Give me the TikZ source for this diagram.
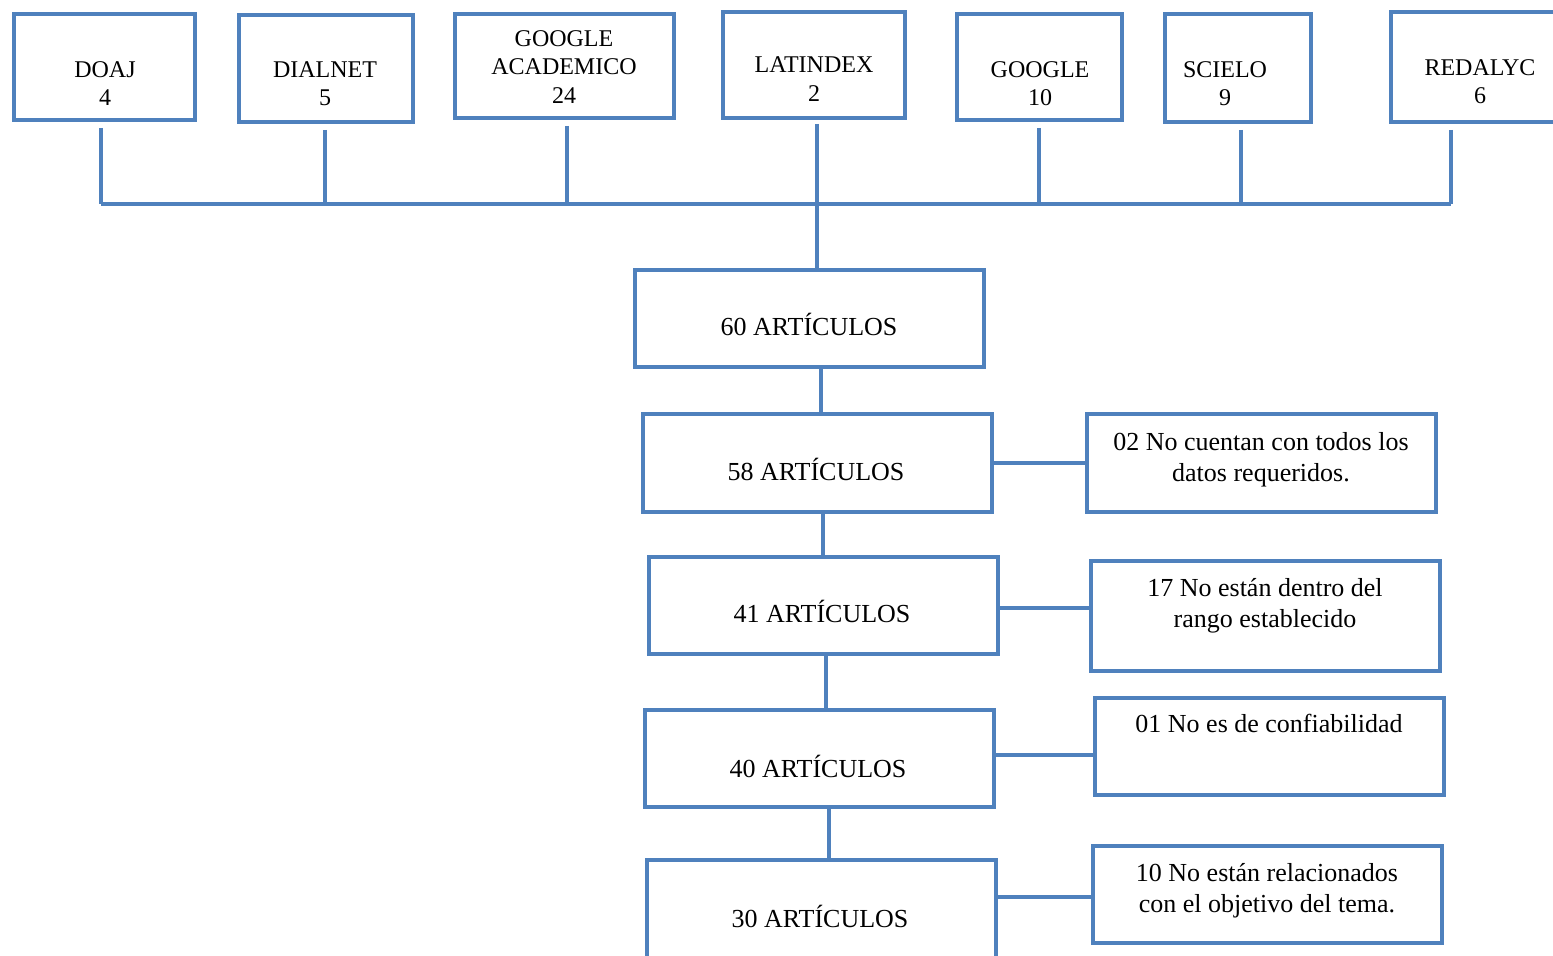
\documentclass[tikz,border=0pt]{standalone}
\usepackage{fontspec}
\setmainfont{Liberation Serif}
\usepackage{xcolor}
\usetikzlibrary{positioning,calc}

\definecolor{boxblue}{RGB}{79,129,189}

\tikzset{
  box/.style={draw=boxblue, line width=2pt, fill=white, inner sep=0pt},
  link/.style={draw=boxblue, line width=2pt},
  toptext/.style={font=\fontsize{12}{14.25}\selectfont, align=center, anchor=base, inner sep=0pt},
  midtext/.style={font=\fontsize{13}{15.5}\selectfont, align=center, anchor=base, inner sep=0pt},
}

\begin{document}
\begin{tikzpicture}[x=0.5pt,y=-0.5pt]
\clip (0,0) rectangle (1553,956);

% Draw database boxes
\node[box, minimum width=90.5pt, minimum height=53pt] (doaj) at (104.5,67) {};
\node[box, minimum width=87pt, minimum height=53.5pt] (dialnet) at (326,68.5) {};
\node[box, minimum width=109.5pt, minimum height=52pt] (gacad) at (564.5,66) {};
\node[box, minimum width=91pt, minimum height=53pt] (latindex) at (814,65) {};
\node[box, minimum width=82.5pt, minimum height=53pt] (google) at (1039.5,67) {};
\node[box, minimum width=73pt, minimum height=54pt] (scielo) at (1238,68) {};
\node[box, minimum width=89.5pt, minimum height=55pt] (redalyc) at (1480,67) {};

% (base = last line)
\node[toptext] (doajT) at (105,106) {DOAJ\\4};
\node[toptext] (dialnetT) at (325,106) {DIALNET\\5};
\node[toptext] (gacadT) at (564,103.5) {GOOGLE\\ACADEMICO\\24};
\node[toptext] (latindexT) at (814,101.5) {LATINDEX\\2};
\node[toptext] (googleT) at (1040,106) {GOOGLE\\10};
\node[toptext] (scieloT) at (1225,106) {SCIELO\\9};
\node[toptext] (redalycT) at (1480,104) {REDALYC\\6};

% Draw article counts
\node[box, minimum width=174.5pt, minimum height=48.5pt] (a60) at (809.5,318.5) {};
\node[box, minimum width=174.5pt, minimum height=49pt] (a58) at (817.5,463) {};
\node[box, minimum width=174.5pt, minimum height=48.5pt] (a41) at (823.5,605.5) {};
\node[box, minimum width=174.5pt, minimum height=48.5pt] (a40) at (819.5,758.5) {};
\node[box, minimum width=174.5pt, minimum height=50pt] (a30) at (821.5,910) {};

\node[midtext] (a60T) at (809,336) {60 ARTÍCULOS};
\node[midtext] (a58T) at (816,481) {58 ARTÍCULOS};
\node[midtext] (a41T) at (822,623) {41 ARTÍCULOS};
\node[midtext] (a40T) at (818,777) {40 ARTÍCULOS};
\node[midtext] (a30T) at (820,927) {30 ARTÍCULOS};

% Draw exclusion reasons
\node[box, minimum width=174.5pt, minimum height=49pt] (r1) at (1261.5,463) {};
\node[box, minimum width=174.5pt, minimum height=55pt] (r2) at (1265.5,616) {};
\node[box, minimum width=174.5pt, minimum height=48.5pt] (r3) at (1269.5,746.5) {};
\node[box, minimum width=174.5pt, minimum height=48.5pt] (r4) at (1267.5,894.5) {};

\node[midtext] (r1T) at (1261,482) {02 No cuentan con todos los\\datos requeridos.};
\node[midtext] (r2T) at (1265,628) {17 No están dentro del\\rango establecido};
\node[midtext] (r3T) at (1269,733) {01 No es de confiabilidad};
\node[midtext] (r4T) at (1267,912.5) {10 No están relacionados\\con el objetivo del tema.};

% Draw connectors
\coordinate (busL) at (101,204);
\coordinate (busR) at (1451,204);
\draw[link] (busL) -- (busR);
\foreach \n/\x in {doaj/101, dialnet/325, gacad/567, google/1039, scielo/1241, redalyc/1451} {
    \draw[link] ([yshift=-3pt]\x,0 |- \n.south) -- (\x,0 |- busL);
}
\draw[link] ([yshift=-2pt]817,0 |- latindex.south) -- (817,0 |- a60.north);
\foreach \a/\b/\x in {a60/a58/821, a58/a41/823, a41/a40/826, a40/a30/829} {
    \draw[link] (\x,0 |- \a.south) -- (\x,0 |- \b.north);
}
\foreach \a/\b/\y in {a58/r1/463, a41/r2/608, a40/r3/755, a30/r4/897} {
    \draw[link] (\a.east |- 0,\y) -- (\b.west |- 0,\y);
}
\end{tikzpicture}
\end{document}
